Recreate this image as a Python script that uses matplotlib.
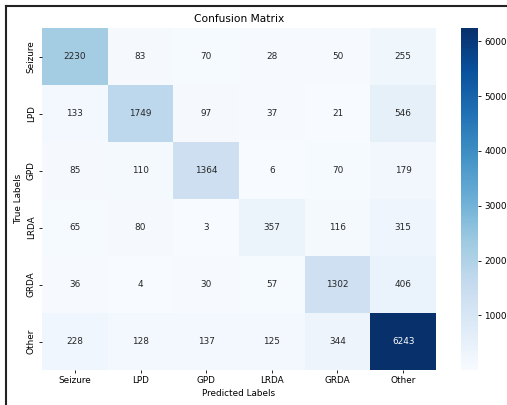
import numpy as np
import matplotlib.pyplot as plt
import seaborn as sns
from matplotlib.lines import Line2D

labels = ["Seizure", "LPD", "GPD", "LRDA", "GRDA", "Other"]
cm = np.array([
    [2230, 83, 70, 28, 50, 255],
    [133, 1749, 97, 37, 21, 546],
    [85, 110, 1364, 6, 70, 179],
    [65, 80, 3, 357, 116, 315],
    [36, 4, 30, 57, 1302, 406],
    [228, 128, 137, 125, 344, 6243],
])

fig = plt.figure(figsize=(5.07, 4.05), dpi=100)
ax = fig.add_axes([42 / 507, 1 - 370 / 405, 394 / 507, 342 / 405])
cax = fig.add_axes([461 / 507, 1 - 370 / 405, 17 / 507, 342 / 405])

sns.heatmap(cm, annot=True, fmt="d", cmap="Blues", ax=ax, cbar_ax=cax,
            xticklabels=labels, yticklabels=labels,
            annot_kws={"fontsize": 6.4})

ax.set_title("Confusion Matrix", fontsize=7.7, pad=4)
ax.set_xlabel("Predicted Labels", fontsize=6.4, labelpad=3)
ax.set_ylabel("True Labels", fontsize=6.4, labelpad=3)
ax.tick_params(labelsize=6.4, length=2.5, width=0.6, pad=2)
cax.tick_params(labelsize=6.4, length=2.5, width=0.6, pad=2)

# screenshot frame
fig.add_artist(Line2D([6 / 507, 1], [1 - 5.5 / 405] * 2, color="#222222", lw=1.5))
fig.add_artist(Line2D([6 / 507] * 2, [0, 1 - 5.5 / 405], color="#222222", lw=1.5))

fig.savefig("out.png", dpi=100)
